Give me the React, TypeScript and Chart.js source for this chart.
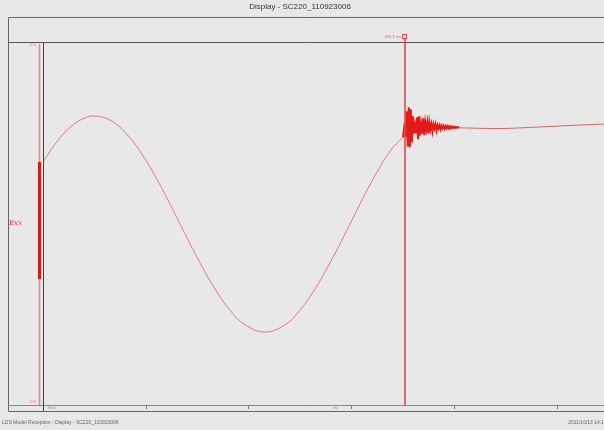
import React, { useEffect, useRef } from "react";
import { Chart, registerables } from "chart.js";

Chart.register(...registerables);

const titleText = "Display - SC220_110923006";
const statusLeft = "LDS Model Reception - Display - SC220_110923006";
const statusRight = "2011/10/13 14:1";
const channelLabel = "Exx";

// smooth response (time ms, value)
const waveX = [0, 11.7, 26.3, 40.9, 50.6, 65.2, 79.8, 94.4, 109.0, 123.6, 138.2, 152.8, 167.4, 182.0, 196.6, 216.1, 235.5, 250.1, 264.7, 279.3, 293.9, 308.5, 323.1, 337.7, 350.4];
const waveY = [33.9, 43.7, 53.0, 58.2, 59.2, 57.0, 50.3, 39.8, 26.3, 10.7, -5.7, -21.7, -36.1, -47.8, -55.8, -59.8, -55.8, -47.8, -36.1, -21.7, -5.8, 10.7, 26.3, 39.8, 47.5];

// ringing after the trigger
const ringX = [350.4, 352, 353, 354, 355, 356, 357, 358, 359, 360, 361, 362, 363, 364, 365, 366, 367, 368, 369, 370, 371, 372, 373, 374, 375, 376, 377, 378, 379, 380, 381, 382, 383, 384, 385, 386, 387, 388, 389, 390, 391, 392, 393, 394, 395, 396, 397, 398, 399, 400, 401, 402, 403, 404, 405];
const ringY = [47.5, 55.2, 47.5, 61.8, 42.5, 64.0, 42.0, 62.9, 44.7, 59.1, 49.7, 54.1, 49.7, 58.5, 46.4, 59.1, 48.6, 54.7, 49.7, 58.0, 48.6, 55.8, 51.9, 55.8, 49.7, 55.8, 51.9, 54.7, 50.8, 54.7, 52.4, 54.7, 51.3, 54.1, 52.4, 54.1, 51.9, 53.8, 52.4, 53.8, 52.2, 53.6, 52.4, 53.7, 52.4, 53.4, 52.4, 53.4, 52.7, 53.3, 52.6, 53.2, 52.7, 53.1, 52.7];

// settled tail
const tailX = [405, 415.6, 444.8, 483.7, 512.9, 546];
const tailY = [52.7, 52.6, 52.3, 53.2, 54.0, 54.8];

const xTicks = [100, 200, 300, 400, 500];
const cursorX = 352.3;
const indicatorRange = [33.9, -30.6];
const xMin = 0;
const xMax = 546;
const yMin = -100;
const yMax = 100;

const framePlugin = {
  id: "frame",
  beforeDraw(chart: any) {
    const ctx = chart.ctx;
    const w = chart.width;
    const h = chart.height;
    const a = chart.chartArea;
    ctx.save();
    ctx.fillStyle = "#e8e8e8";
    ctx.fillRect(0, 0, w, h);
    ctx.fillStyle = "#333";
    ctx.font = "8px 'Liberation Sans', Arial, sans-serif";
    ctx.textAlign = "center";
    ctx.textBaseline = "middle";
    ctx.fillText(titleText, 300, 7);
    ctx.strokeStyle = "#666";
    ctx.lineWidth = 1;
    ctx.beginPath();
    ctx.moveTo(8.5, 17.5); ctx.lineTo(w, 17.5);
    ctx.moveTo(8.5, 17.5); ctx.lineTo(8.5, 411.5);
    ctx.moveTo(8.5, 411.5); ctx.lineTo(w, 411.5);
    ctx.stroke();
    ctx.strokeStyle = "#555";
    ctx.beginPath();
    ctx.moveTo(8.5, a.top + 0.5); ctx.lineTo(w, a.top + 0.5);
    ctx.stroke();
    ctx.strokeStyle = "#888";
    ctx.beginPath();
    ctx.moveTo(8.5, a.bottom + 0.5); ctx.lineTo(w, a.bottom + 0.5);
    ctx.stroke();
    ctx.fillStyle = "#666";
    ctx.font = "5px 'Liberation Sans', Arial, sans-serif";
    ctx.textAlign = "left";
    ctx.fillText(statusLeft, 2, 423);
    ctx.textAlign = "right";
    ctx.fillText(statusRight, 604, 423);
    ctx.restore();
  },
  afterDraw(chart: any) {
    const ctx = chart.ctx;
    const a = chart.chartArea;
    const xs = chart.scales.x;
    const ys = chart.scales.y;
    ctx.save();
    ctx.strokeStyle = "#444";
    ctx.lineWidth = 1;
    ctx.beginPath();
    ctx.moveTo(a.left + 0.5, a.top); ctx.lineTo(a.left + 0.5, 411);
    ctx.stroke();
    ctx.strokeStyle = "#777";
    ctx.beginPath();
    for (const t of xTicks) {
      const px = Math.round(xs.getPixelForValue(t)) + 0.5;
      ctx.moveTo(px, a.bottom + 1); ctx.lineTo(px, a.bottom + 4);
    }
    ctx.stroke();
    ctx.fillStyle = "#888";
    ctx.font = "4px 'Liberation Sans', Arial, sans-serif";
    ctx.textAlign = "left";
    ctx.textBaseline = "middle";
    ctx.fillText("Time", a.left + 4, a.bottom + 3);
    ctx.fillText("ms", 333, a.bottom + 3);
    // channel indicator
    const ix = 39.5;
    ctx.strokeStyle = "#ea8a8a";
    ctx.lineWidth = 1.6;
    ctx.beginPath();
    ctx.moveTo(ix, a.top + 2); ctx.lineTo(ix, a.bottom);
    ctx.stroke();
    ctx.strokeStyle = "#e01515";
    ctx.lineWidth = 3;
    ctx.beginPath();
    ctx.moveTo(ix, ys.getPixelForValue(indicatorRange[0]));
    ctx.lineTo(ix, ys.getPixelForValue(indicatorRange[1]));
    ctx.stroke();
    ctx.fillStyle = "#e88";
    ctx.font = "4px 'Liberation Sans', Arial, sans-serif";
    ctx.textAlign = "right";
    ctx.fillText("100", 36, a.top + 3);
    ctx.fillText("-100", 36, a.bottom - 3);
    ctx.fillStyle = "#d03030";
    ctx.font = "italic 7px 'DejaVu Serif', serif";
    ctx.textAlign = "left";
    ctx.fillText(channelLabel, 9, 223);
    // cursor
    const cx = xs.getPixelForValue(cursorX);
    ctx.strokeStyle = "#e04848";
    ctx.lineWidth = 1.6;
    ctx.beginPath();
    ctx.moveTo(cx, 38.5); ctx.lineTo(cx, a.bottom);
    ctx.stroke();
    ctx.lineWidth = 1;
    ctx.strokeRect(Math.round(cx) - 2.5, 34.5, 4, 4);
    ctx.fillStyle = "#e06060";
    ctx.font = "4px 'Liberation Sans', Arial, sans-serif";
    ctx.textAlign = "right";
    ctx.fillText("350.3 ms", cx - 4, 37);
    ctx.restore();
  },
};

export default function App() {
  const ref = useRef<HTMLCanvasElement>(null);
  useEffect(() => {
    if (!ref.current) return;
    const chart = new Chart(ref.current, {
      type: "line",
      data: {
        datasets: [
          {
            data: waveX.map((x, i) => ({ x, y: waveY[i] })),
            borderColor: "#e37a7a",
            borderWidth: 1,
            pointRadius: 0,
            tension: 0.4,
          },
          {
            data: ringX.map((x, i) => ({ x, y: ringY[i] })),
            borderColor: "#e41a1a",
            borderWidth: 2,
            pointRadius: 0,
            tension: 0,
          },
          {
            data: tailX.map((x, i) => ({ x, y: tailY[i] })),
            borderColor: "#e26262",
            borderWidth: 1,
            pointRadius: 0,
            tension: 0.3,
          },
        ],
      },
      options: {
        responsive: false,
        animation: false,
        layout: { padding: { left: 43, top: 42, right: 0, bottom: 25 } },
        plugins: { legend: { display: false }, tooltip: { enabled: false }, title: { display: false } },
        scales: {
          x: { type: "linear", min: xMin, max: xMax, display: false },
          y: { type: "linear", min: yMin, max: yMax, display: false },
        },
      },
      plugins: [framePlugin],
    } as any);
    return () => chart.destroy();
  }, []);
  return (
    <div style={{ position: "absolute", left: 0, top: 0, width: 604, height: 430 }}>
      <canvas ref={ref} width={604} height={430} />
    </div>
  );
}
